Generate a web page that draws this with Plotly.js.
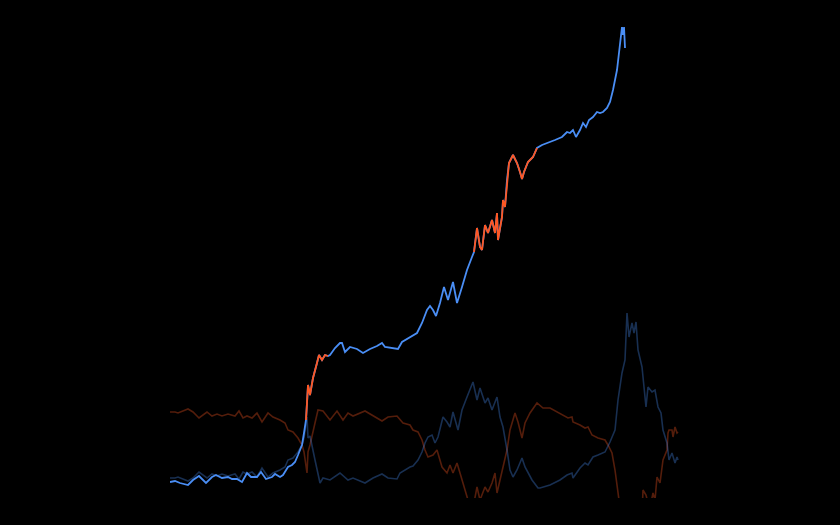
<!DOCTYPE html>
<html>
<head>
<meta charset="utf-8">
<script src="https://cdn.plot.ly/plotly-3.0.1.min.js"></script>
<style>html,body{margin:0;padding:0;background:#000;}#chart{width:840px;height:525px;}</style>
</head>
<body>
<div id="chart"></div>
<script>
// Main price line (time index, value)
const mainX = [0,10,20,36,46,58,72,84,92,104,116,124,134,144,154,162,174,182,192,204,210,220,226,236,244,250,256,264,268,
  272,274,276,280,286,294,298,304,310,
  316,320,330,340,344,350,360,374,386,400,414,424,430,444,456,464,480,494,504,514,520,526,532,540,548,556,566,574,584,594,604,
  608,614,620,624,630,636,644,650,654,656,664,666,670,674,678,686,694,700,704,708,716,726,
  734,744,756,770,784,794,800,806,812,820,826,832,838,846,854,860,866,874,880,886,894,898,902,904,906,908,910];
const mainY = [8,8.5,7.5,6.5,9,11,7.5,10.5,11.5,10,10.5,9.5,9.5,8,12.5,10.5,10.5,13,9.5,10.5,12,10.5,11.5,15.5,16.5,18,21.5,26.5,32.5,
  39,47.5,56.5,51.5,60,67.5,71.5,69,71.5,
  71,71.5,75,77.5,77.5,73,75.5,74.5,72.5,74.5,76,77.5,75.5,75,74.5,78,80.5,82.5,87.5,94,96,94,91,97.5,105.5,99,108,97.5,105.5,114,120.5,
  123,135,125.5,124,136.5,132.5,139,132.5,142.5,129,140.5,149,145.5,159,167.5,171.5,167.5,163,159.5,163,168,170.5,
  175,176.5,177.5,179,180.5,183,182.5,184,180.5,184,187.5,185.5,189,190.5,193,192.5,193,195,198,204,214,222.5,234,235.5,231.5,235.5,225];
// Regime periods highlighted in orange [start, end]
const hotStart = [272, 608];
const hotEnd = [316, 734];

// Lower oscillator pair
const redX = [0,10,16,36,46,58,74,84,94,104,116,130,138,146,154,164,174,184,196,206,220,230,236,246,256,264,268,272,274,276,280,290,296,306,
  320,334,346,356,366,390,406,424,436,454,466,480,486,496,504,510,516,526,534,544,554,560,566,574,580,590,596,606,614,620,630,636,644,650,654,660,666,674,680,
  690,696,704,710,720,734,746,760,774,786,796,804,806,820,830,836,844,856,870,876,884,890,894,898,904,910,914,918,924,928,932,936,944,946,952,956,964,966,970,974,980,986,994,996,998,1004,1006,1010,1014,1016];
const redY = [43,43,42.5,44.5,43,40,43,41,42,41,42,41,43.5,40,41,40,42.5,38,42.5,40.5,39,37.5,34,33,30,26.5,23,16.5,12.5,23,26.5,37.5,44,43.5,
  39,43.5,39,42.5,41,43.5,41,38.5,40.5,41,37.5,36.5,34,33,29,24,20.5,21.5,24,15.5,12.5,16.5,12.5,17.5,12.5,4,-1,-5,5.5,-1,5.5,3,7.5,12.5,2.5,9,15.5,24,34,
  42.5,38,30,37.5,42.5,47.5,45,45,43,41.5,40,40.5,38,36.5,35,35.5,31.5,30,29,26.5,22.5,14,5.5,-1,-9.5,-16,-39.5,-27.5,-34.5,-29.5,-35,-21,-8.5,4,1.5,-2.5,0,2.5,-1,10.5,7.5,19,24,32.5,34,34,30.5,35.5,32.5,33];
const blueX = [0,10,16,36,46,58,74,84,94,104,116,130,138,146,154,164,174,184,196,206,220,230,236,246,256,264,268,272,274,276,280,290,300,306,
  320,340,356,366,390,406,424,436,454,460,466,480,486,496,504,510,516,524,530,536,546,554,560,566,576,584,594,606,614,620,630,636,644,654,660,666,674,680,686,694,704,710,724,736,
  740,760,780,794,804,806,820,830,836,846,856,870,880,890,896,904,910,914,918,924,928,932,936,944,948,952,956,964,970,976,982,986,994,998,1004,1010,1014,1016];
const blueY = [10,10,10.5,8.5,10,13,10,12,11,12,11,12,9.5,13,12,13,10.5,15,10.5,12.5,14,15.5,19,20,23,26.5,30,36.5,40.5,30,31,19,7.5,10,
  9,12.5,9,10,7.5,10,12,10,9.5,12.5,13.5,15.5,16,19,23,27.5,30.5,31.5,27.5,30.5,40.5,38,35.5,43,34,44,50.5,58,49,55,47.5,50,44,50.5,40.5,35.5,24,14,10.5,14,20,15.5,9,5,
  5,6.5,9,11.5,12.5,10,15,17.5,16.5,20.5,21.5,23,28,34,49,62.5,69,92.5,80.5,87.5,82.5,88,74,65.5,55.5,45.5,55.5,53,54,45.5,42.5,34,27.5,19,22.5,17.5,20.5,19];

const MAIN_BLUE = '#4a8ef5';
const HOT = '#ff5722';

const traces = [];
traces.push({x: redX, y: redY, mode: 'lines', line: {color: 'rgba(255,87,34,0.33)', width: 1.6}, hoverinfo: 'skip'});
traces.push({x: blueX, y: blueY, mode: 'lines', line: {color: 'rgba(74,142,245,0.33)', width: 1.6}, hoverinfo: 'skip'});
traces.push({x: mainX, y: mainY, mode: 'lines', line: {color: MAIN_BLUE, width: 1.8}, hoverinfo: 'skip'});
for (let k = 0; k < hotStart.length; k++) {
  const xs = [], ys = [];
  for (let i = 0; i < mainX.length; i++) {
    if (mainX[i] >= hotStart[k] && mainX[i] <= hotEnd[k]) { xs.push(mainX[i]); ys.push(mainY[i]); }
  }
  traces.push({x: xs, y: ys, mode: 'lines', line: {color: HOT, width: 1.8}, hoverinfo: 'skip'});
}

const layout = {
  width: 840, height: 525,
  paper_bgcolor: '#000', plot_bgcolor: '#000',
  showlegend: false,
  margin: {l: 170, r: 160, t: 20, b: 27, pad: 0},
  xaxis: {visible: false, range: [0, 1020], fixedrange: true},
  yaxis: {visible: false, range: [0, 239], fixedrange: true}
};
Plotly.newPlot('chart', traces, layout, {displayModeBar: false, staticPlot: true});
</script>
</body>
</html>
